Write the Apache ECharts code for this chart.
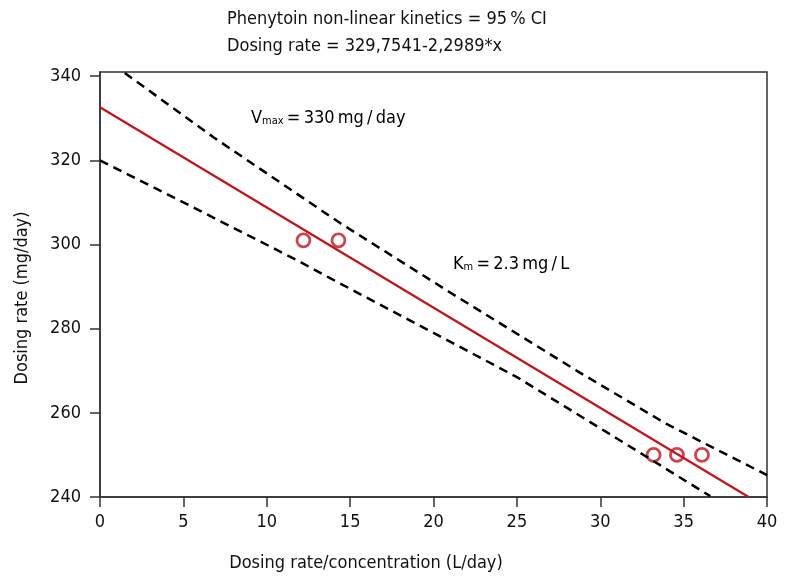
<!DOCTYPE html>
<html>
<head>
<meta charset="utf-8">
<script src="https://cdn.jsdelivr.net/npm/echarts@6/dist/echarts.min.js"></script>
<style>
html,body{margin:0;padding:0;background:#fff;}
#chart{width:787px;height:579px;}
</style>
</head>
<body>
<div id="chart"></div>
<script>
// ---- data ----
const titleLines = ['Phenytoin non-linear kinetics = 95\u2009% CI', 'Dosing rate = 329,7541-2,2989*x'];
const xAxisName = 'Dosing rate/concentration (L/day)';
const yAxisName = 'Dosing rate (mg/day)';
const xTicks = [0, 5, 10, 15, 20, 25, 30, 35, 40];
const yTicks = [240, 260, 280, 300, 320, 340];

const upperX = [0, 1.4, 6.8, 14.4, 21, 28.8, 34, 40];
const upperY = [344.8, 341, 325.5, 305.1, 288.6, 269.5, 257.3, 245.2];
const lowerX = [0, 0.2, 6, 11.8, 13.8, 25, 31, 36.6];
const lowerY = [320, 319.6, 308, 296.3, 292, 268.5, 253.9, 240.2];
const fitX = [0, 38.9];
const fitY = [332.6, 240];
const obsX = [12.2, 14.3, 33.2, 34.6, 36.1];
const obsY = [301, 301, 250, 250, 250];

const FONT = '"Liberation Sans Narrow", "DejaVu Sans Condensed", sans-serif';
const RED = '#c1161f';
const zip = (a, b) => a.map((v, i) => [v, b[i]]);
const richStyle = {
  a: { fontSize: 18, fontFamily: FONT, color: '#111', lineHeight: 22, verticalAlign: 'bottom' },
  b: { fontSize: 11, fontFamily: FONT, color: '#111', lineHeight: 18, verticalAlign: 'bottom' }
};

const chart = echarts.init(document.getElementById('chart'));
chart.setOption({
  animation: false,
  backgroundColor: '#fff',
  textStyle: { fontFamily: FONT },
  grid: { left: 100, right: 20, top: 72, bottom: 82, show: true, borderColor: '#333', borderWidth: 1.5, backgroundColor: 'transparent' },
  xAxis: {
    type: 'value', min: xTicks[0], max: xTicks[xTicks.length - 1], interval: 5,
    axisLine: { lineStyle: { color: '#333', width: 1.5 } },
    axisTick: { show: true, length: 10, lineStyle: { color: '#333', width: 1.5 } },
    axisLabel: { color: '#111', fontSize: 18, margin: 16, fontFamily: FONT },
    splitLine: { show: false }
  },
  yAxis: {
    type: 'value', min: yTicks[0], max: 341, interval: 20,
    axisLine: { show: true, lineStyle: { color: '#333', width: 1.5 } },
    axisTick: { show: true, length: 10, lineStyle: { color: '#333', width: 1.5 } },
    axisLabel: { color: '#111', fontSize: 18, margin: 19, fontFamily: FONT, showMaxLabel: false },
    splitLine: { show: false }
  },
  graphic: [
    { type: 'text', left: 227, top: 6, style: { text: titleLines.join('\n'), font: '18px ' + FONT, fill: '#111', lineHeight: 27 } },
    { type: 'text', x: 366, y: 563, style: { text: xAxisName, font: '18px ' + FONT, fill: '#111', align: 'center', verticalAlign: 'middle' } },
    { type: 'text', x: 22, y: 298, rotation: Math.PI / 2, style: { text: yAxisName, font: '18px ' + FONT, fill: '#111', align: 'center', verticalAlign: 'middle' } },
    { type: 'text', x: 251, y: 116, style: {
      text: '{a|V}{b|max}{a|\u2009=\u2009330\u2009mg\u2009/\u2009day}', verticalAlign: 'middle', rich: richStyle } },
    { type: 'text', x: 453, y: 262, style: {
      text: '{a|K}{b|m}{a|\u2009=\u20092.3\u2009mg\u2009/\u2009L}', verticalAlign: 'middle', rich: richStyle } }
  ],
  series: [
    { type: 'line', data: zip(upperX, upperY), showSymbol: false, clip: true,
      lineStyle: { color: '#000', width: 2.5, type: [9, 6] } },
    { type: 'line', data: zip(lowerX, lowerY), showSymbol: false, clip: true,
      lineStyle: { color: '#000', width: 2.5, type: [9, 6] } },
    { type: 'line', data: zip(fitX, fitY), showSymbol: false, clip: true,
      lineStyle: { color: RED, width: 2.3 } },
    { type: 'scatter', data: zip(obsX, obsY), symbol: 'circle', symbolSize: 13,
      itemStyle: { color: '#fff', borderColor: RED, borderWidth: 2.8 } }
  ]
});
</script>
</body>
</html>
